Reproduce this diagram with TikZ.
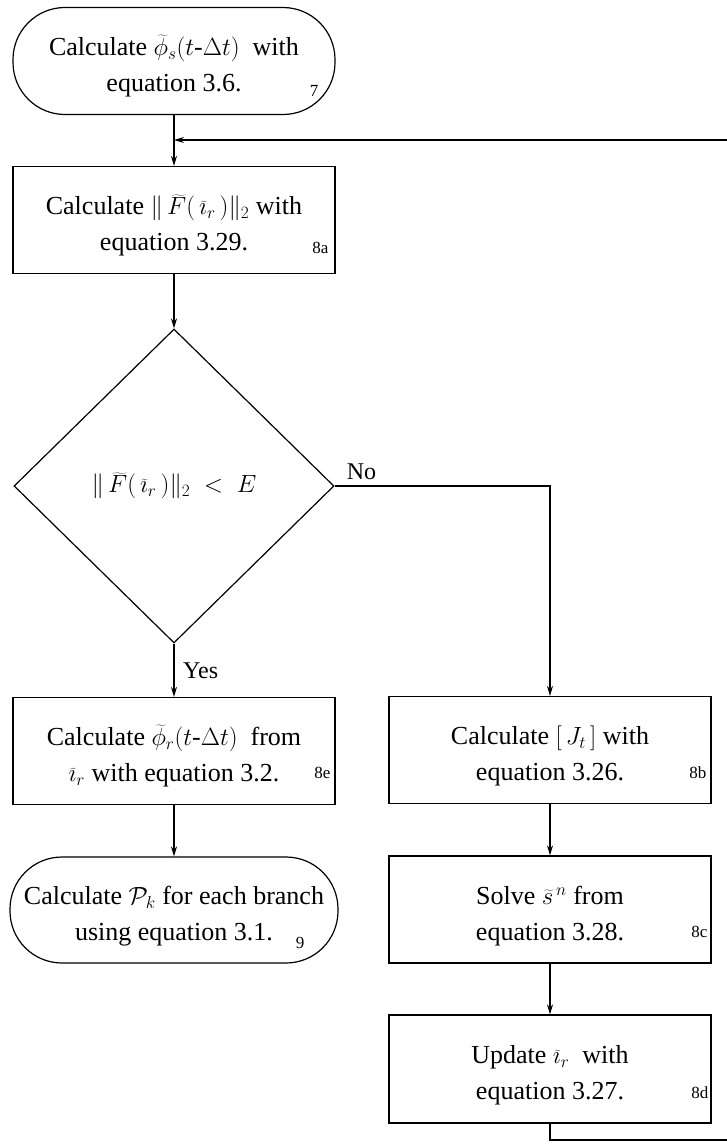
\documentclass[tikz,border=0pt]{standalone}
\usepackage{fontspec}
\setmainfont{Liberation Serif}
\usetikzlibrary{shapes.geometric,arrows.meta,calc}
\newcommand\topstrut{\rule{0pt}{31pt}}
\begin{document}
\begin{tikzpicture}[x=1pt,y=-1pt,
  every node/.style={font=\fontsize{26}{36}\selectfont},
  box/.style={draw, line width=1.2pt, rectangle, align=center, inner sep=0pt,
    minimum width=322pt, minimum height=107pt},
  term/.style={box, rounded corners=52pt},
  decision/.style={draw, line width=1.2pt, diamond, inner sep=0pt,
    minimum width=320pt, minimum height=314pt},
  num/.style={font=\fontsize{17}{17}\selectfont, anchor=base east, inner sep=0pt},
  lbl/.style={font=\fontsize{24}{24}\selectfont, inner sep=0pt},
  conn/.style={line width=1.2pt},
  arr/.style={conn, -{Stealth[length=10pt,width=6pt]}},
]
\useasboundingbox (0,0) rectangle (727,1148);
\fill[white] (0,0) rectangle (727,1148);

% nodes
\node[term] (t7) at (174,61) {\topstrut Calculate $\widetilde{\phi}_s(t\mbox{-}\Delta t)$\ \ with\\ equation 3.6.};
\node[box] (b8a) at (174,220) {\topstrut Calculate $\|\,\widetilde{F}(\,\widetilde{\imath}_r\,)\|_2$ with\\ equation 3.29.};
\node[decision] (dia) at (174,486) {$\|\,\widetilde{F}(\,\widetilde{\imath}_r\,)\|_2\;<\;E$};
\node[box] (b8e) at (174,751) {\topstrut Calculate $\widetilde{\phi}_r(t\mbox{-}\Delta t)$\ \ from\\ $\widetilde{\imath}_r$ with equation 3.2.};
\node[term, minimum width=328pt, minimum height=106pt] (t9) at (174,910) {\topstrut Calculate $\mathcal{P}_k$ for each branch\\ using equation 3.1.};
\node[box] (b8b) at (550,750) {\topstrut Calculate $[\,J_t\,]$ with\\ equation 3.26.};
\node[box] (b8c) at (550,909.5) {\topstrut Solve $\widetilde{s}^{\,n}$ from\\ equation 3.28.};
\node[box, minimum height=108pt] (b8d) at (550,1069) {\topstrut Update $\widetilde{\imath}_r$\ \ with\\ equation 3.27.};

% step numbers
\node[num] (n7) at ($(t7.south east)+(-17,-19)$) {7};
\node[num] (n8a) at ($(b8a.south east)+(-7,-21)$) {8a};
\node[num] (n8e) at ($(b8e.south east)+(-5,-27)$) {8e};
\node[num] (n9) at ($(t9.south east)+(-34,-15)$) {9};
\node[num] (n8b) at ($(b8b.south east)+(-5,-26)$) {8b};
\node[num] (n8c) at ($(b8c.south east)+(-4,-26)$) {8c};
\node[num] (n8d) at ($(b8d.south east)+(-3,-25)$) {8d};

% loop coordinates
\coordinate (join) at (174,140);
\coordinate (lb) at (550,1140);
\coordinate (rb) at (740,1140);
\coordinate (rt) at (740,140);

% connectors
\draw[arr] (t7.south) -- (b8a.north);
\draw[arr] (b8a.south) -- (dia.north);
\draw[arr] (dia.east) -| (b8b.north);
\node[lbl, anchor=base west] (no) at ($(dia.east)+(12,-7)$) {No};
\draw[arr] (dia.south) -- (b8e.north);
\node[lbl, anchor=base west] (yes) at ($(dia.south)+(9,35)$) {Yes};
\draw[arr] (b8e.south) -- (t9.north);
\draw[arr] (b8b.south) -- (b8c.north);
\draw[arr] (b8c.south) -- (b8d.north);
\draw[arr] (b8d.south) -- (lb) -- (rb) -- (rt) -- (join);
\end{tikzpicture}
\end{document}
